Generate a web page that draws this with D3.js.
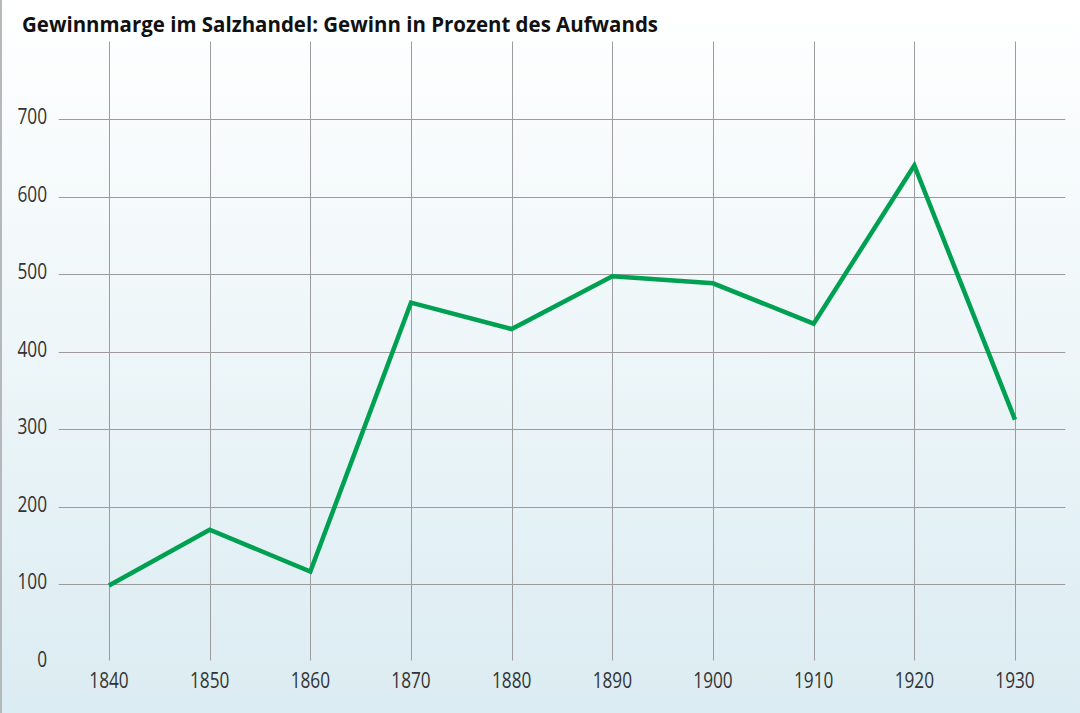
<!DOCTYPE html>
<html><head><meta charset="utf-8">
<script src="https://cdn.jsdelivr.net/npm/d3@7"></script>
<style>html,body{margin:0;padding:0;background:#fff;}svg{display:block;}</style>
</head><body>
<script>
const title = "Gewinnmarge im Salzhandel: Gewinn in Prozent des Aufwands";
const years = [1840, 1850, 1860, 1870, 1880, 1890, 1900, 1910, 1920, 1930];
const values = [98, 170, 116, 463, 429, 497, 488, 436, 640, 312];
const yTicks = [0, 100, 200, 300, 400, 500, 600, 700];
const yGrid = [100, 200, 300, 400, 500, 600, 700];

const W = 1080, H = 713;
const svg = d3.select("body").append("svg").attr("width", W).attr("height", H);

const defs = svg.append("defs");
const grad = defs.append("linearGradient").attr("id", "bg").attr("x1", 0).attr("y1", 0).attr("x2", 0).attr("y2", 1);
grad.append("stop").attr("offset", "0%").attr("stop-color", "#ffffff");
grad.append("stop").attr("offset", "100%").attr("stop-color", "#dbecf2");
svg.append("rect").attr("width", W).attr("height", H).attr("fill", "url(#bg)");
svg.append("line").attr("x1", 1).attr("x2", 1).attr("y1", 0).attr("y2", H).attr("stroke", "#b5b9bb").attr("stroke-width", 2);

const x = d3.scaleLinear().domain([1840, 1930]).range([109, 1015]);
const y = d3.scaleLinear().domain([0, 800]).range([661.5, 41.5]);

const g = svg.append("g");
g.selectAll("line.h").data(yGrid).join("line")
  .attr("x1", x(1835)).attr("x2", x(1935))
  .attr("y1", d => Math.round(y(d)) + 0.5).attr("y2", d => Math.round(y(d)) + 0.5)
  .attr("stroke", "#9c9c9c").attr("stroke-width", 1);
g.selectAll("line.v").data(years).join("line")
  .attr("x1", d => Math.round(x(d)) + 0.5).attr("x2", d => Math.round(x(d)) + 0.5)
  .attr("y1", y(800)).attr("y2", y(0) - 1)
  .attr("stroke", "#9c9c9c").attr("stroke-width", 1);

function squeeze(sel, f) {
  sel.each(function () {
    const w = this.getComputedTextLength();
    d3.select(this).attr("textLength", w * f).attr("lengthAdjust", "spacingAndGlyphs");
  });
}

const yl = svg.selectAll("text.yl").data(yTicks).join("text")
  .attr("x", 47).attr("y", d => y(d) + 5)
  .attr("text-anchor", "end")
  .attr("font-family", "Open Sans, sans-serif").attr("font-size", 21)
  .attr("fill", "#333").text(d => d);
squeeze(yl, 0.82);

const xl = svg.selectAll("text.xl").data(years).join("text")
  .attr("x", d => x(d)).attr("y", 688)
  .attr("text-anchor", "middle")
  .attr("font-family", "Open Sans, sans-serif").attr("font-size", 21)
  .attr("fill", "#333").text(d => d);
squeeze(xl, 0.82);

const line = d3.line().x(d => x(d[0])).y(d => y(d[1]));
svg.append("path").datum(years.map((yr, i) => [yr, values[i]]))
  .attr("d", line).attr("fill", "none")
  .attr("stroke", "#00a052").attr("stroke-width", 4.5)
  .attr("stroke-linejoin", "miter").attr("stroke-linecap", "butt");

const t = svg.append("text").attr("x", 22).attr("y", 32)
  .attr("font-family", "Open Sans, sans-serif").attr("font-weight", 700).attr("font-size", 21)
  .attr("fill", "#111").text(title);
t.attr("textLength", 636).attr("lengthAdjust", "spacingAndGlyphs");
</script>
</body></html>
